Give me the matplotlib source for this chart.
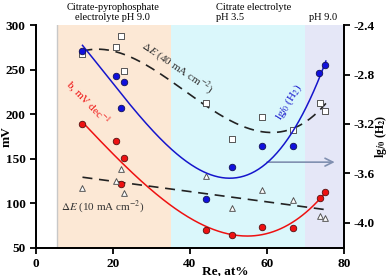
import numpy as np
import matplotlib
matplotlib.use("Agg")
import matplotlib.pyplot as plt

plt.rcParams['font.family'] = ['Liberation Serif', 'DejaVu Serif']
plt.rcParams['mathtext.fontset'] = 'stix'

# Re content, at%
re = [12.1, 20.9, 22.2, 22.9, 44.3, 50.8, 58.7, 66.8, 73.8, 75.1]

# Tafel slope b, mV dec-1 (left axis)
b_red = [189, 170, 122, 151, 70, 64, 73, 72, 106, 112]
# dE at 40 mA cm-2 (left axis)
de40 = [267, 275, 288, 248, 213, 172, 197, 182, 212, 203]
# dE at 10 mA cm-2 (left axis)
de10 = [117, 125, 138, 111, 130, 94, 115, 103, 86, 83]
# lg j0 (H2) (right axis)
re_blue = [12.1, 20.8, 22.9, 22.2, 44.3, 50.8, 58.7, 66.8, 73.6, 75.1]
lgj0 = [-2.61, -2.81, -2.86, -3.07, -3.81, -3.55, -3.38, -3.38, -2.79, -2.72]

regions = [(5.5, 35, '#fce8d5'), (35, 70, '#daf7fb'), (70, 80, '#e5e7f7')]

fig = plt.figure(figsize=(3.9, 2.76), dpi=100)
ax = fig.add_axes([0.092, 0.103, 0.790, 0.806])
ax2 = ax.twinx()

for x0, x1, c in regions:
    ax.axvspan(x0, x1, color=c, lw=0, zorder=0)
ax.axvline(5.5, color='#c8c8c8', lw=1, zorder=0.5)

xf = np.linspace(12.1, 75.3, 200)
p = np.polyfit(re, b_red, 3)
ax.plot(xf, np.polyval(p, xf), color='#ee1111', lw=1.1, zorder=2)
p = np.polyfit(re, de40, 3)
ax.plot(xf, np.polyval(p, xf), color='#222222', lw=1.2, ls=(0, (6, 4)), zorder=2)
p = np.polyfit(re, de10, 1)
ax.plot(xf, np.polyval(p, xf), color='#222222', lw=1.2, ls=(0, (6, 4)), zorder=2)

ax.scatter(re, b_red, s=22, color='#ee1111', edgecolor='#551111', lw=0.6, zorder=4)
ax.scatter(re, de40, s=14, marker='s', facecolor='white', edgecolor='#555555', lw=0.7, zorder=4)
ax.scatter(re, de10, s=17, marker='^', facecolor='white', edgecolor='#555555', lw=0.7, zorder=4)

p = np.polyfit(re_blue, lgj0, 3)
ax2.plot(xf, np.polyval(p, xf), color='#1515cc', lw=1.1, zorder=2)
ax2.scatter(re_blue, lgj0, s=22, color='#1010dd', edgecolor='#111155', lw=0.6, zorder=4)

ax.set_xlim(0, 80)
ax.set_ylim(50, 300)
ax2.set_ylim(-4.2, -2.4)
ax.set_xticks([0, 20, 40, 60, 80])
ax.set_yticks([50, 100, 150, 200, 250, 300])
ax2.set_yticks([-2.4, -2.8, -3.2, -3.6, -4.0])
ax2.set_yticklabels(['-2.4', '-2.8', '-3.2', '-3.6', '-4.0'])

for a in (ax, ax2):
    a.spines['top'].set_visible(False)
    for s in a.spines.values():
        s.set_linewidth(1.3)
    a.tick_params(direction='out', width=1.3, length=4, labelsize=9.5)
    for lab in a.get_xticklabels() + a.get_yticklabels():
        lab.set_fontweight('bold')
ax2.tick_params(pad=2.5)

ax.set_xlabel('Re, at%', fontsize=9.5, fontweight='bold')
ax.xaxis.set_label_coords(0.615, -0.08)
ax.set_ylabel('mV', fontsize=9.5, fontweight='bold')
ax.yaxis.set_label_coords(-0.075, 0.5)
ax2.set_ylabel('lg$\\mathbf{\\it{j}}_{\\mathbf{0}}$ (H$_\\mathbf{2}$)', fontsize=8.5,
               fontweight='bold')
ax2.yaxis.set_label_coords(1.095, 0.5)

ax.text(20, 303, 'Citrate-pyrophosphate\nelectrolyte pH 9.0', ha='center', va='bottom',
        fontsize=7.5, linespacing=1.15)
ax.text(56.5, 315, 'Citrate electrolyte', ha='center', va='bottom', fontsize=7.5)
ax.text(50.5, 303, 'pH 3.5', ha='center', va='bottom', fontsize=7.5)
ax.text(74.5, 303, 'pH 9.0', ha='center', va='bottom', fontsize=7.5)

ax.text(36.7, 253, '$\\it{\\Delta E}$ (40 mA cm$^{-2}$)', rotation=-34, ha='center', va='center',
        fontsize=8, color='#333333')
ax.text(17.4, 96, '$\\it{\\Delta E}$ (10 mA cm$^{-2}$)', ha='center', va='center',
        fontsize=8, color='#333333')
ax.text(13.3, 212, 'b, mV dec$^{-1}$', rotation=-46, ha='center', va='center',
        fontsize=8, color='#ee1111')
ax.text(65.6, 213, 'lg$\\it{j}_0$ (H$_2$)', rotation=58, ha='center', va='center',
        fontsize=8, color='#1515cc')
ax.annotate('', xy=(78.3, 146), xytext=(59.3, 146),
            arrowprops=dict(arrowstyle='->', color='#8090b0', lw=1.2, mutation_scale=14))

fig.savefig('out.png', dpi=100)
